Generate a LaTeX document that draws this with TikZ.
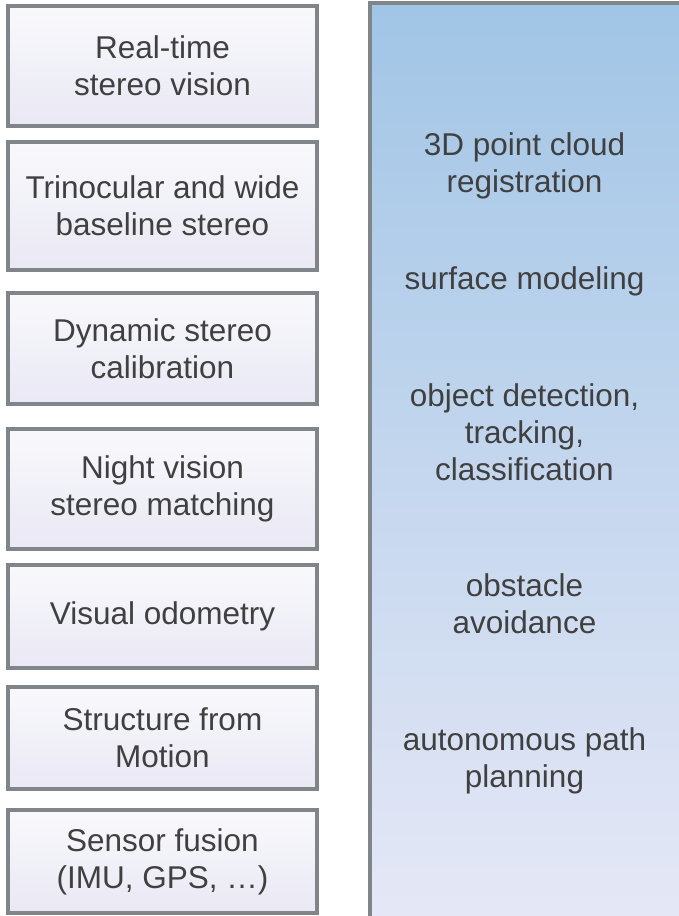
\documentclass[tikz,border=0pt]{standalone}
\usepackage{fontspec}
\setmainfont{Liberation Sans}
\usetikzlibrary{positioning}
\definecolor{edgegray}{RGB}{127,133,137}
\definecolor{txtgray}{RGB}{64,64,64}
\definecolor{boxtop}{RGB}{249,249,252}
\definecolor{boxbot}{RGB}{233,232,244}
\definecolor{paneltop}{RGB}{161,197,230}
\definecolor{panelbot}{RGB}{230,232,246}

\begin{document}
\begin{tikzpicture}[
  x=1pt, y=-1pt,
  node distance=12pt,
  box/.style={
    rectangle, draw=edgegray, line width=4pt,
    top color=boxtop, bottom color=boxbot,
    minimum width=309pt, align=center, text=txtgray,
    font=\fontsize{31.5}{37}\selectfont, inner sep=0pt
  },
  panel/.style={
    rectangle, draw=edgegray, line width=4pt,
    top color=paneltop, bottom color=panelbot,
    minimum width=310.5pt, minimum height=925pt,
    inner sep=0pt, anchor=north west
  },
  apptext/.style={
    align=center, text=txtgray,
    font=\fontsize{31.5}{37}\selectfont, inner sep=0pt
  }
]
\useasboundingbox (0,0) rectangle (679,916);

% left column: techniques
\node[box, minimum height=120pt] (rtsv) at (162.5,66) {Real-time\\stereo vision};
\node[box, minimum height=128pt, below=12pt of rtsv] (trino) {Trinocular and wide\\baseline stereo};
\node[box, minimum height=111pt, below=19pt of trino] (calib) {Dynamic stereo\\calibration};
\node[box, minimum height=120pt, below=21pt of calib] (night) {Night vision\\stereo matching};
\node[box, minimum height=103pt, below=12pt of night] (odom) {Visual odometry};
\node[box, minimum height=102pt, below=15pt of odom] (sfm) {Structure from\\Motion};
\node[box, minimum height=103pt, below=17pt of sfm] (fusion) {Sensor fusion\\(IMU, GPS, …)};

% right column: applications
\node[panel] (apps) at (368,1) {};
\node[apptext] (reg) at (524.5,166) {3D point cloud\\registration};
\node[apptext] (surf) at (524.5,281) {surface modeling};
\node[apptext] (detect) at (524.5,432) {object detection,\\tracking,\\classification};
\node[apptext] (avoid) at (524.5,604) {obstacle\\avoidance};
\node[apptext] (plan) at (524.5,761) {autonomous path\\planning};

\end{tikzpicture}
\end{document}
